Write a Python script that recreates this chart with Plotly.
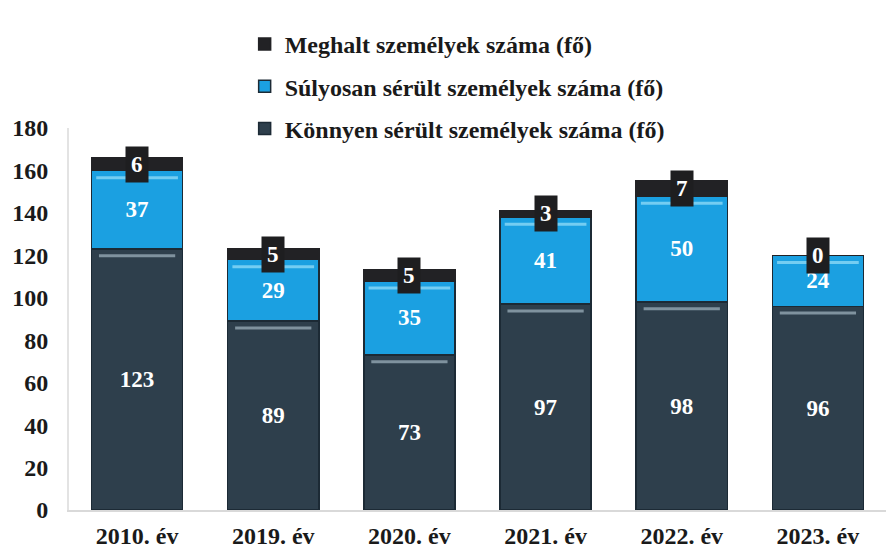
import plotly.graph_objects as go

# Data
years = ["2010. év", "2019. év", "2020. év", "2021. év", "2022. év", "2023. év"]
konnyen = [123, 89, 73, 97, 98, 96]     # Könnyen sérült személyek száma (fő)
sulyos = [37, 29, 35, 41, 50, 24]       # Súlyosan sérült személyek száma (fő)
meghalt = [6, 5, 5, 3, 7, 0]            # Meghalt személyek száma (fő)
y_ticks = [0, 20, 40, 60, 80, 100, 120, 140, 160, 180]

FONT = "Liberation Serif"
C_KONNYEN = "#2e3f4c"
C_SULYOS = "#1ba0e1"
C_MEGHALT = "#222225"
TEXT_SIZE = 23

fig = go.Figure()

fig.add_trace(go.Bar(
    x=years, y=konnyen, name="Könnyen sérült személyek száma (fő)",
    legendgroup="k", legendrank=3,
    marker=dict(color=C_KONNYEN, line=dict(color="#1c2a35", width=1.5)),
    text=konnyen, textposition="inside", insidetextanchor="middle",
    textfont=dict(family=FONT, size=TEXT_SIZE, color="white", weight="bold"),
    hoverinfo="skip",
))
fig.add_trace(go.Bar(
    x=years, y=sulyos, name="Súlyosan sérült személyek száma (fő)",
    legendgroup="s", legendrank=2,
    marker=dict(color=C_SULYOS, line=dict(color="#1c2a35", width=1.5)),
    text=sulyos, textposition="inside", insidetextanchor="middle",
    textfont=dict(family=FONT, size=TEXT_SIZE, color="white", weight="bold"),
    hoverinfo="skip",
))
fig.add_trace(go.Bar(
    x=years, y=meghalt, name="Meghalt személyek száma (fő)",
    legendgroup="m", legendrank=1,
    marker=dict(color=C_MEGHALT, line=dict(color=C_MEGHALT, width=1.5)),
    hoverinfo="skip",
))

# Glossy highlight stripes near the top of each lower segment, and
# boxed labels for the (thin) top segment
shapes = []
annotations = []
for i, yr in enumerate(years):
    k_top = konnyen[i]
    s_top = konnyen[i] + sulyos[i]
    shapes.append(dict(type="line", xref="x", yref="y",
                       x0=i - 0.28, x1=i + 0.28, y0=k_top - 3.2, y1=k_top - 3.2,
                       line=dict(color="#7f929e", width=3)))
    shapes.append(dict(type="line", xref="x", yref="y",
                       x0=i - 0.30, x1=i + 0.30, y0=s_top - 3.4, y1=s_top - 3.4,
                       line=dict(color="#74cdf2", width=3)))
    annotations.append(dict(
        x=yr, y=s_top + meghalt[i] / 2, xref="x", yref="y",
        text=str(meghalt[i]), showarrow=False,
        font=dict(family=FONT, size=TEXT_SIZE, color="white", weight="bold"),
        bgcolor="#1e1e20", borderpad=5,
    ))

fig.update_layout(
    width=886, height=549,
    margin=dict(l=69, r=0, t=128, b=39),
    barmode="stack", bargap=0.33,
    plot_bgcolor="white", paper_bgcolor="white",
    font=dict(family=FONT, size=TEXT_SIZE, color="#1a1a1a", weight="bold"),
    shapes=shapes, annotations=annotations,
    legend=dict(
        x=0.215, xanchor="left", y=0.94, yanchor="bottom",
        traceorder="grouped", tracegroupgap=8,
        font=dict(family=FONT, size=24, color="#1a1a1a", weight="bold"),
        bgcolor="rgba(0,0,0,0)", itemwidth=30,
    ),
    showlegend=True,
)
fig.update_xaxes(
    type="category", showgrid=False, showline=True, linecolor="#d9d9d9", linewidth=2,
    ticks="", ticklabelstandoff=3, automargin=False,
    tickfont=dict(family=FONT, size=24, color="#1a1a1a", weight="bold"),
)
fig.update_yaxes(
    range=[0, 180], tickvals=y_ticks, showgrid=False, zeroline=False,
    showline=True, linecolor="#e3e3e3", linewidth=2,
    ticks="", ticklabelstandoff=14, automargin=False,
    tickfont=dict(family=FONT, size=24, color="#1a1a1a", weight="bold"),
)

fig.write_html("out.html")
